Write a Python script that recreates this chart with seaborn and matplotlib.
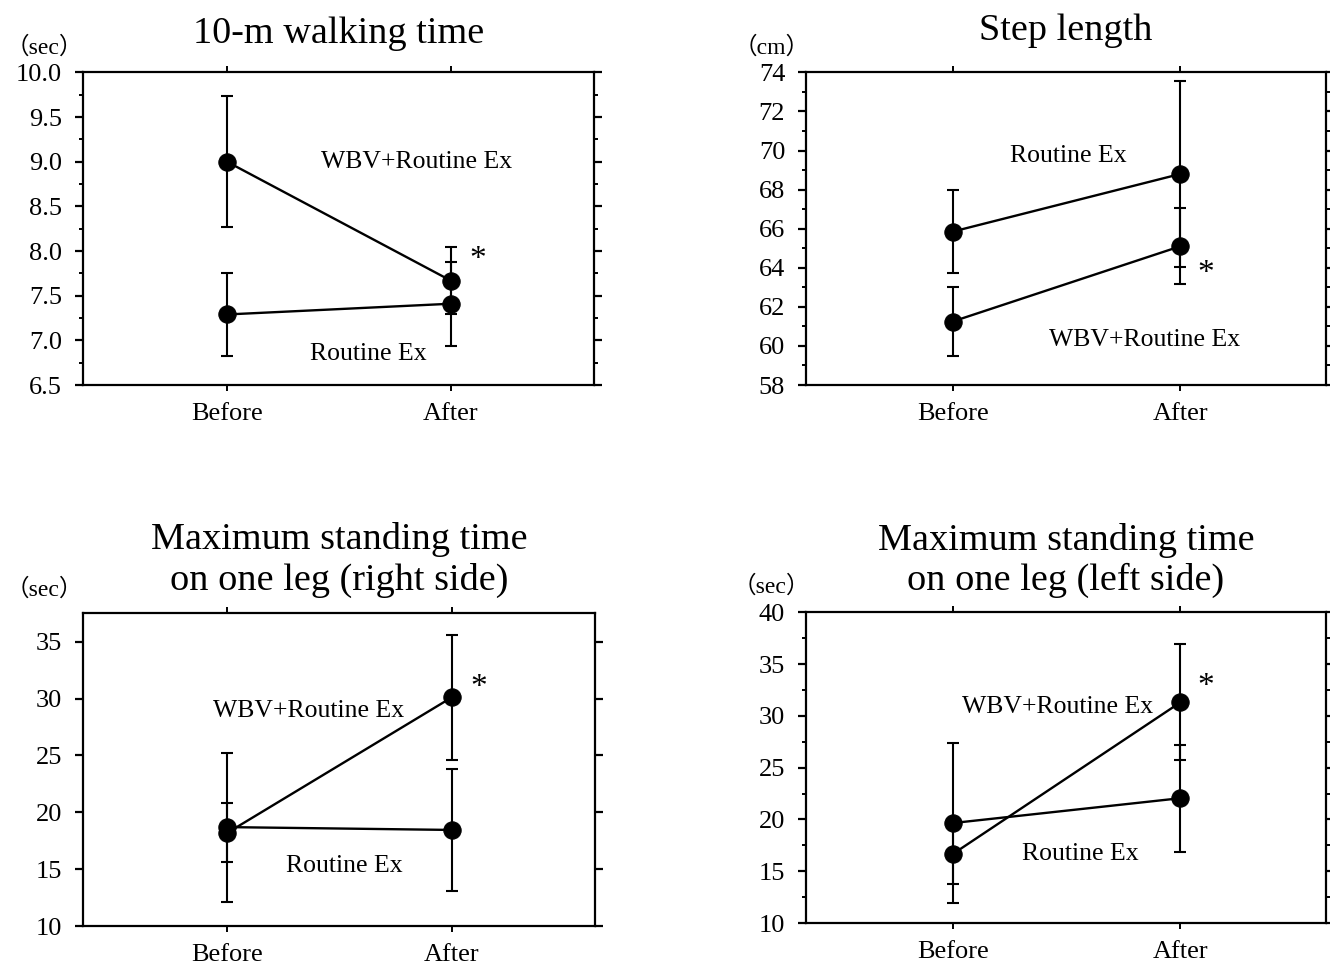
import numpy as np
import pandas as pd
import matplotlib
matplotlib.use("Agg")
import matplotlib.pyplot as plt
import seaborn as sns
from matplotlib.ticker import MultipleLocator

# values (mean and error-bar half length)
phases = ["Before", "After"]
groups = ["WBV+Routine Ex", "Routine Ex"]

walk_wbv_mean = [9.0, 7.67]
walk_wbv_err = [0.73, 0.37]
walk_rt_mean = [7.29, 7.41]
walk_rt_err = [0.46, 0.47]

step_wbv_mean = [61.25, 65.1]
step_wbv_err = [1.75, 1.95]
step_rt_mean = [65.85, 68.8]
step_rt_err = [2.13, 4.75]

right_wbv_mean = [18.2, 30.1]
right_wbv_err = [2.6, 5.5]
right_rt_mean = [18.7, 18.45]
right_rt_err = [6.55, 5.4]

left_wbv_mean = [16.65, 31.3]
left_wbv_err = [2.9, 5.6]
left_rt_mean = [19.65, 22.05]
left_rt_err = [7.7, 5.15]

sns.set_style("ticks")
plt.rcParams['font.family'] = ['Liberation Serif', 'DejaVu Serif']
for k in ["text.color", "axes.labelcolor", "xtick.color", "ytick.color", "axes.edgecolor"]:
    plt.rcParams[k] = "black"

fig = plt.figure(figsize=(13.3, 9.65), dpi=100)

# panel setup: axes rect, title, unit, y range, ticks, label positions
panels = [
    dict(rect=[0.0624, 0.601, 0.384, 0.324], title="10-m walking time", pad=21,
         unit="（sec）", unit_xy=(0.033, 0.951),
         data=(walk_wbv_mean, walk_wbv_err, walk_rt_mean, walk_rt_err),
         ylim=(6.5, 10.0), major=0.5, minor=0.25, fmt="{:.1f}",
         wbv_xy=(0.85, 9.0), rt_xy=(0.63, 6.85), star_xy=(1.12, 7.9)),
    dict(rect=[0.606, 0.601, 0.391, 0.324], title="Step length", pad=23,
         unit="（cm）", unit_xy=(0.58, 0.951),
         data=(step_wbv_mean, step_wbv_err, step_rt_mean, step_rt_err),
         ylim=(58, 74), major=2, minor=1, fmt="{:.0f}",
         wbv_xy=(0.845, 60.3), rt_xy=(0.51, 69.7), star_xy=(1.11, 63.7)),
    dict(rect=[0.0624, 0.0404, 0.385, 0.324],
         title="Maximum standing time\non one leg (right side)", pad=17,
         unit="（sec）", unit_xy=(0.033, 0.389),
         data=(right_wbv_mean, right_wbv_err, right_rt_mean, right_rt_err),
         ylim=(10, 37.5), major=5, minor=None, fmt="{:.0f}",
         wbv_xy=(0.36, 28.9), rt_xy=(0.52, 15.3), star_xy=(1.12, 31.0)),
    dict(rect=[0.606, 0.0435, 0.391, 0.322],
         title="Maximum standing time\non one leg (left side)", pad=16,
         unit="（sec）", unit_xy=(0.58, 0.392),
         data=(left_wbv_mean, left_wbv_err, left_rt_mean, left_rt_err),
         ylim=(10, 40), major=5, minor=2.5, fmt="{:.0f}",
         wbv_xy=(0.46, 30.9), rt_xy=(0.56, 16.7), star_xy=(1.11, 32.8)),
]

for p in panels:
    ax = fig.add_axes(p["rect"])
    wbv_m, wbv_e, rt_m, rt_e = p["data"]
    df = pd.DataFrame({
        "x": [0, 1, 0, 1],
        "mean": wbv_m + rt_m,
        "err": wbv_e + rt_e,
        "group": [groups[0]] * 2 + [groups[1]] * 2,
    })
    for g, sub in df.groupby("group"):
        ax.errorbar(sub["x"], sub["mean"], yerr=sub["err"], fmt="none",
                    ecolor="black", elinewidth=1.5, capsize=4, capthick=1.5, zorder=2)
    sns.lineplot(data=df, x="x", y="mean", hue="group", palette=["black", "black"],
                 marker="o", markersize=12.5, markeredgecolor="black", linewidth=1.7,
                 legend=False, ax=ax, zorder=3)

    ax.set_xlim(-0.644, 1.64)
    ax.set_ylim(*p["ylim"])
    ax.set_xticks([0, 1])
    ax.set_xticklabels(phases)
    ax.yaxis.set_major_locator(MultipleLocator(p["major"]))
    if p["minor"]:
        ax.yaxis.set_minor_locator(MultipleLocator(p["minor"]))
    ticks = ax.get_yticks()
    ticks = [t for t in ticks if p["ylim"][0] - 1e-9 <= t <= p["ylim"][1] + 1e-9]
    ax.set_yticks(ticks)
    ax.set_yticklabels([p["fmt"].format(t) for t in ticks])
    ax.set_xlabel("")
    ax.set_ylabel("")
    ax.tick_params(axis="x", which="both", top=True, direction="out", length=4,
                   width=1.4, labelsize=19, pad=9)
    ax.tick_params(axis="y", which="major", right=True, direction="out", length=6,
                   width=1.6, labelsize=19, pad=9)
    ax.tick_params(axis="y", which="minor", right=True, direction="out", length=3,
                   width=1.4)
    for s in ax.spines.values():
        s.set_linewidth(1.6)
        s.set_color("black")
    ax.set_facecolor("white")

    ax.set_title(p["title"], fontsize=27.5, pad=p["pad"], linespacing=1.2)
    fig.text(p["unit_xy"][0], p["unit_xy"][1], p["unit"], fontsize=17,
             family=['Liberation Serif', 'Noto Sans CJK JP'], ha="center", va="center")
    ax.text(*p["wbv_xy"], groups[0], fontsize=18.5, ha="center", va="center")
    ax.text(*p["rt_xy"], groups[1], fontsize=18.5, ha="center", va="center")
    ax.text(*p["star_xy"], "*", fontsize=24, ha="center", va="center")

fig.savefig("out.png", dpi=100, facecolor="white")
